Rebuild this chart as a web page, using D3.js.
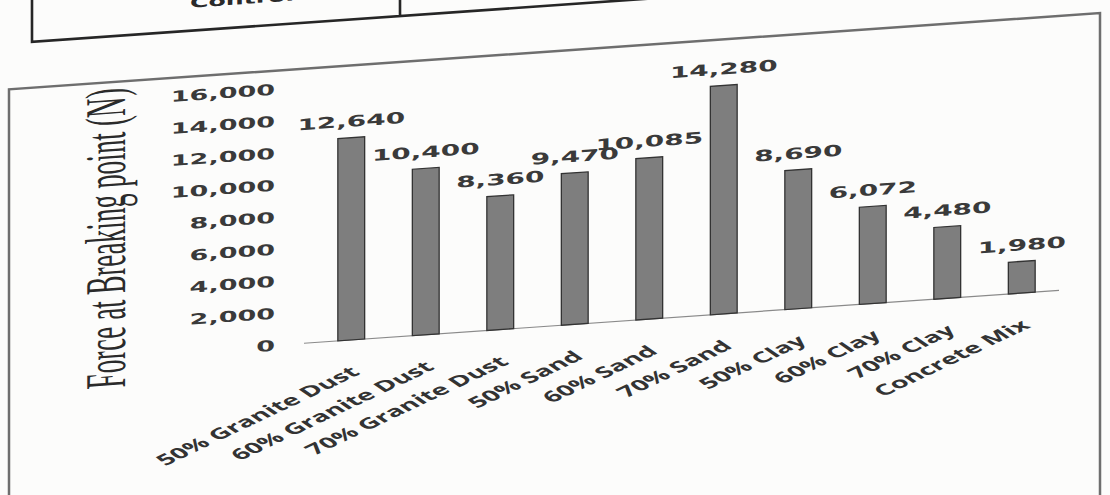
<!DOCTYPE html>
<html>
<head>
<meta charset="utf-8">
<script src="https://cdn.jsdelivr.net/npm/d3@7"></script>
<style>
  html, body { margin: 0; padding: 0; background: #fcfcfb; }
  svg { display: block; }
</style>
</head>
<body>
<svg id="chart" width="1110" height="495"></svg>
<script>
// ---- data ----
const categories = ["50% Granite Dust", "60% Granite Dust", "70% Granite Dust", "50% Sand", "60% Sand",
                    "70% Sand", "50% Clay", "60% Clay", "70% Clay", "Concrete Mix"];
const values = [12640, 10400, 8360, 9470, 10085, 14280, 8690, 6072, 4480, 1980];
const yTicks = [0, 2000, 4000, 6000, 8000, 10000, 12000, 14000, 16000];
const yTitle = "Force at Breaking point (N)";
const tableText = "Control";

// ---- layout ----
const W = 1110, H = 495;
const SX = 1.8;          // horizontal stretch of text seen in the photo
const svg = d3.select("#chart");
svg.append("rect").attr("width", W).attr("height", H).attr("fill", "#fcfcfb");

const g = svg.append("g").attr("transform", "skewY(-4)");

const x = d3.scaleBand().domain(categories).range([314, 1059]).paddingInner(0.64).paddingOuter(0.32);
const y = d3.scaleLinear().domain([0, 16000]).range([364.5, 108.5]);
const fmt = d3.format(",");

// table fragment above chart
g.append("path")
  .attr("d", "M32,-10 L32,44 L1110,44 M400,-10 L400,44")
  .attr("fill", "none").attr("stroke", "#262626").attr("stroke-width", 2.6);
g.append("text")
  .attr("transform", `translate(190,21) scale(${SX},1)`)
  .attr("font-family", "DejaVu Sans").attr("font-weight", "bold").attr("font-size", 14)
  .attr("fill", "#2a2a2a").text(tableText);

// chart frame
g.append("path")
  .attr("d", "M9,520 L9,90 L1100,90 L1100,580")
  .attr("fill", "none").attr("stroke", "#6e6e6e").attr("stroke-width", 2.5);

// baseline
g.append("line")
  .attr("x1", x.range()[0] - 10).attr("x2", x.range()[1])
  .attr("y1", y(0)).attr("y2", y(0))
  .attr("stroke", "#8a8a8a").attr("stroke-width", 1.2);

// y tick labels
g.selectAll("text.ytick").data(yTicks).join("text")
  .attr("class", "ytick")
  .attr("transform", d => `translate(275,${y(d)}) scale(${SX},1)`)
  .attr("text-anchor", "end").attr("dy", "0.36em")
  .attr("font-family", "DejaVu Sans").attr("font-weight", "bold").attr("font-size", 15)
  .attr("fill", "#3a3a3a").text(d => fmt(d));

// y title
g.append("text")
  .attr("transform", `translate(125,246) scale(${SX},1) rotate(-90)`)
  .attr("text-anchor", "middle")
  .attr("font-family", "Liberation Serif").attr("font-size", 32)
  .attr("textLength", 300).attr("lengthAdjust", "spacingAndGlyphs")
  .attr("fill", "#2a2a2a").text(yTitle);

// bars
g.selectAll("rect.bar").data(values).join("rect")
  .attr("class", "bar")
  .attr("x", (d, i) => x(categories[i]))
  .attr("width", x.bandwidth())
  .attr("y", d => y(d))
  .attr("height", d => y(0) - y(d))
  .attr("fill", "#7e7e7e").attr("stroke", "#333").attr("stroke-width", 1.3);

// value labels
g.selectAll("text.val").data(values).join("text")
  .attr("class", "val")
  .attr("transform", (d, i) => `translate(${x(categories[i]) + x.bandwidth() / 2},${y(d) - 11}) scale(${SX},1)`)
  .attr("text-anchor", "middle")
  .attr("font-family", "DejaVu Sans").attr("font-weight", "bold").attr("font-size", 15.5)
  .attr("fill", "#3a3a3a").text(d => fmt(d));

// category labels
g.selectAll("text.cat").data(categories).join("text")
  .attr("class", "cat")
  .attr("transform", d => `translate(${x(d) + x.bandwidth() / 2 + 4},${y(0) + 30}) scale(${SX},1) rotate(-36)`)
  .attr("text-anchor", "end").attr("dy", "0.35em")
  .attr("font-family", "Open Sans").attr("font-weight", "bold").attr("font-size", 15.5)
  .attr("fill", "#333").text(d => d);
</script>
</body>
</html>
